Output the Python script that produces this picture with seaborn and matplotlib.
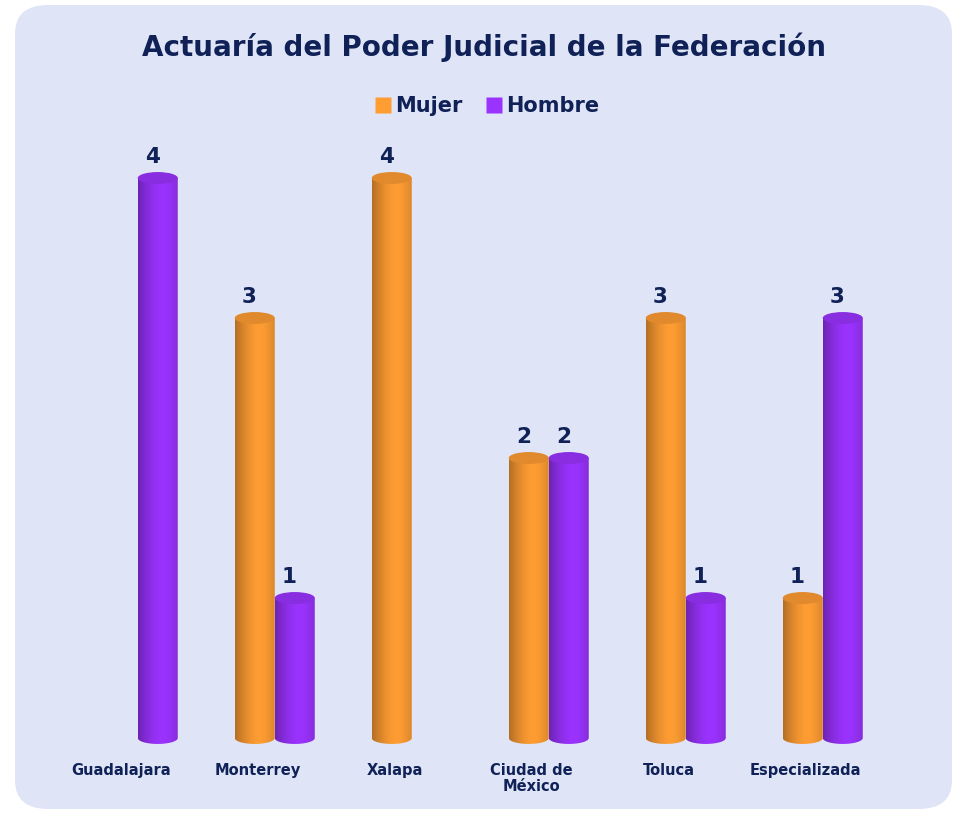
import numpy as np
import pandas as pd
import matplotlib
matplotlib.use("Agg")
import matplotlib.pyplot as plt
import matplotlib.colors as mcolors
import matplotlib.transforms as mtransforms
from matplotlib.patches import Ellipse, FancyBboxPatch
from matplotlib.path import Path
from matplotlib.lines import Line2D
import seaborn as sns

# Data
ciudades = ["Guadalajara", "Monterrey", "Xalapa", "Ciudad de\nMéxico", "Toluca", "Especializada"]
mujer = [0, 3, 4, 2, 3, 1]
hombre = [4, 1, 0, 2, 1, 3]
series = ["Mujer", "Hombre"]

titulo = "Actuaría del Poder Judicial de la Federación"
navy = "#0f2157"
colores = {"Mujer": "#ff9d33", "Hombre": "#9b33ff"}

df = pd.DataFrame({
    "Ciudad": ciudades * 2,
    "Sexo": ["Mujer"] * len(ciudades) + ["Hombre"] * len(ciudades),
    "Valor": mujer + hombre,
})

sns.set_theme(style="white")
plt.rcParams["font.family"] = ["DejaVu Sans"]

fig = plt.figure(figsize=(9.57, 8.15), dpi=100)
fig.patch.set_facecolor("white")

# rounded panel behind everything
panel = FancyBboxPatch((15 / 957, 6 / 815), 937 / 957, 804 / 815,
                       boxstyle="round,pad=0,rounding_size=0.035",
                       transform=fig.transFigure, facecolor="#dfe5f6",
                       edgecolor="none", zorder=-5)
fig.patches.append(panel)

ax = fig.add_axes([35 / 957, 63 / 815, 890.5 / 957, 644 / 815])
ax.set_facecolor("none")

sns.barplot(data=df, x="Ciudad", y="Valor", hue="Sexo", hue_order=series,
            palette=colores, width=0.584, ax=ax, legend=False, errorbar=None,
            saturation=1)

ax.set_xlim(-0.75, 5.75)
ax.set_ylim(-0.1, 4.5)
eh = 0.085  # ellipse height in data units


def shade(base, n=256):
    c = np.array(mcolors.to_rgb(base))
    t = np.linspace(0, 1, n)
    # dark at edges, brightest a bit right of centre
    f = 1 - 0.3 * np.abs((t - 0.6) / 0.6) ** 1.6
    f = np.clip(f, 0, 1)
    return np.clip(c[None, :] * f[:, None], 0, 1)[None, :, :]


for sexo, cont in zip(series, ax.containers):
    base = colores[sexo]
    grad = shade(base)
    top_col = np.clip(np.array(mcolors.to_rgb(base)) * 0.88, 0, 1)
    labels = []
    for bar in cont:
        bar.set_visible(False)
        x, w, h = bar.get_x(), bar.get_width(), bar.get_height()
        labels.append(f"{h:.0f}" if h > 0 else "")
        if h <= 0:
            continue
        cx = x + w / 2
        ang = np.linspace(np.pi, 2 * np.pi, 60)
        verts = np.column_stack([cx + w / 2 * np.cos(ang), eh / 2 * np.sin(ang)])
        verts = np.vstack([verts, [x + w, h], [x, h], verts[:1]])
        clip = Path(verts, closed=True)
        im = ax.imshow(grad, extent=[x, x + w, -eh, h], aspect="auto",
                       origin="lower", zorder=2, interpolation="bilinear")
        im.set_clip_path(clip, ax.transData)
        ax.add_patch(Ellipse((cx, h), w, eh, facecolor=top_col,
                             edgecolor="none", zorder=3))
    txts = ax.bar_label(cont, labels=labels, padding=8, fontsize=15.5,
                        fontweight="bold", color=navy)
    for t in txts:
        t.xyann = (-3.8, t.xyann[1])

ax.set_xlim(-0.75, 5.75)
ax.set_ylim(-0.1, 4.5)
ax.set_xlabel("")
ax.set_ylabel("")
ax.set_yticks([])
ax.tick_params(axis="x", length=0, pad=8)
for s in ax.spines.values():
    s.set_visible(False)

offset = mtransforms.ScaledTranslation(-17 / 100, 0, fig.dpi_scale_trans)
for lab in ax.get_xticklabels():
    lab.set_fontsize(10.5)
    lab.set_fontweight("bold")
    lab.set_color(navy)
    lab.set_linespacing(1.05)
    lab.set_transform(lab.get_transform() + offset)

fig.text(484 / 957, 1 - 47 / 815, titulo, ha="center", va="center",
         fontsize=20, fontweight="bold", color=navy)

handles = [Line2D([0], [0], marker="s", linestyle="none", markersize=11,
                  markerfacecolor=colores[s], markeredgecolor="none") for s in series]
fig.legend(handles, series, loc="center", bbox_to_anchor=(0.508, 1 - 106 / 815),
           ncol=2, frameon=False, handletextpad=0.1, columnspacing=1.0,
           handlelength=1.0, prop={"weight": "bold", "size": 15})
for t in fig.legends[0].get_texts():
    t.set_color(navy)

fig.savefig("out.png", dpi=100, facecolor="white")
